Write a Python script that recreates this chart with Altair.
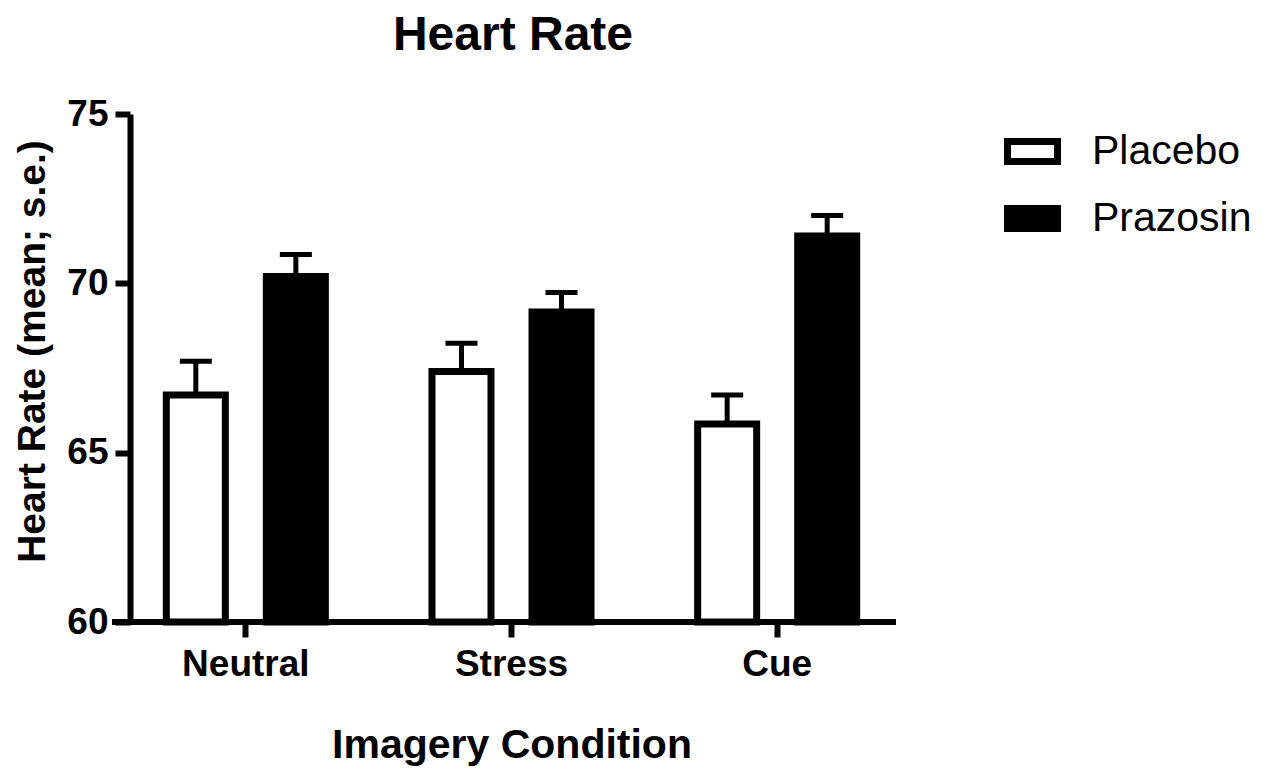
import altair as alt
import pandas as pd

conditions = ["Neutral", "Stress", "Cue"]
groups = ["Placebo", "Prazosin"]
placebo_mean = [66.7, 67.4, 65.85]
placebo_se = [1.0, 0.83, 0.85]
prazosin_mean = [70.2, 69.15, 71.4]
prazosin_se = [0.65, 0.58, 0.6]
y_ticks = [60, 65, 70, 75]

rows = []
for i, c in enumerate(conditions):
    rows.append({"condition": c, "group": "Placebo", "mean": placebo_mean[i],
                 "upper": placebo_mean[i] + placebo_se[i]})
    rows.append({"condition": c, "group": "Prazosin", "mean": prazosin_mean[i],
                 "upper": prazosin_mean[i] + prazosin_se[i]})
df = pd.DataFrame(rows)

FONT = "Liberation Sans"

x_enc = alt.X(
    "condition:N", sort=conditions,
    scale=alt.Scale(range=[-17, 780], paddingInner=0, paddingOuter=0),
    axis=alt.Axis(title="Imagery Condition", domain=False, tickWidth=6, tickSize=15,
                  tickColor="black", labelFontSize=37, labelFontWeight="bold",
                  labelFont=FONT, labelColor="black", labelAngle=0, labelPadding=9,
                  titleFontSize=41, titleFontWeight="bold", titleFont=FONT,
                  titleColor="black", titlePadding=43),
)
xoff_enc = alt.XOffset("group:N", sort=groups,
                       scale=alt.Scale(paddingInner=0.41, paddingOuter=0.533))
y_scale = alt.Scale(domain=[60, 75], nice=False, zero=False)
y_enc = alt.Y(
    "mean:Q", scale=y_scale,
    axis=alt.Axis(values=y_ticks, title="Heart Rate (mean; s.e.)", grid=False,
                  domainWidth=6, domainColor="black", tickWidth=6, tickSize=15,
                  tickColor="black", labelFontSize=37, labelFontWeight="bold",
                  labelFont=FONT, labelColor="black", labelPadding=7,
                  titleFontSize=39, titleFontWeight="bold", titleFont=FONT,
                  titleColor="black", titlePadding=14, titleY=237),
)

base = alt.Chart(df)

bars = base.mark_bar(stroke="black", strokeWidth=7, opacity=1).encode(
    x=x_enc, xOffset=xoff_enc, y=y_enc, y2=alt.datum(60),
    color=alt.Color(
        "group:N", scale=alt.Scale(domain=groups, range=["white", "black"]),
        legend=alt.Legend(title=None, orient="none", legendX=874, legendY=9,
                          symbolType="M-1,-0.4H1V0.4H-1Z", symbolSize=2500,
                          symbolStrokeColor="black", symbolStrokeWidth=7,
                          symbolOpacity=1, labelFontSize=41, labelFont=FONT,
                          labelColor="black", labelOffset=31, rowPadding=14),
    ),
)

err = base.mark_rule(strokeWidth=5, color="black").encode(
    x=x_enc, xOffset=xoff_enc, y=alt.Y("mean:Q", scale=y_scale), y2="upper:Q")

caps = base.mark_tick(orient="horizontal", size=32, thickness=5, color="black", opacity=1).encode(
    x=x_enc, xOffset=xoff_enc, y=alt.Y("upper:Q", scale=y_scale))

baseline = alt.Chart(pd.DataFrame({"v": [60]})).mark_rule(strokeWidth=6, color="black").encode(
    x=alt.value(-18), x2=alt.value(766), y=alt.Y("v:Q", scale=y_scale))

chart = alt.layer(bars, err, caps, baseline).properties(
    width=766, height=508,
    title=alt.TitleParams("Heart Rate", fontSize=48, fontWeight="bold", font=FONT,
                          color="black", anchor="middle", frame="group", offset=35),
    padding={"left": 5, "top": 4, "right": 5, "bottom": 2},
).configure(background="white").configure_view(stroke="transparent", strokeWidth=0)

chart.save("out.html", embed_options={"renderer": "svg", "actions": False})
